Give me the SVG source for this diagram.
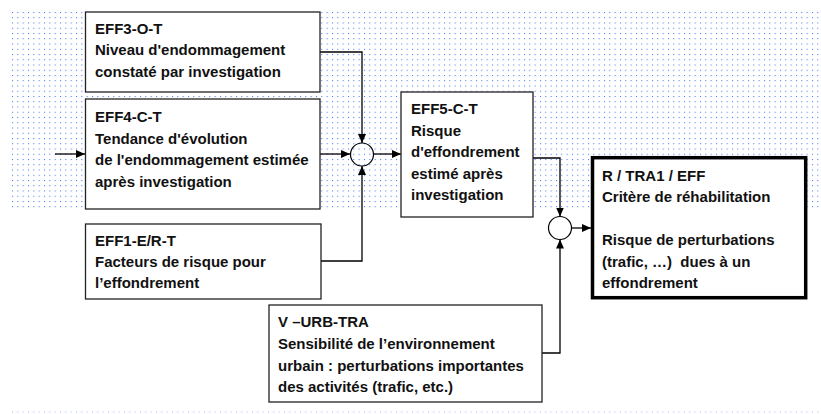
<svg xmlns="http://www.w3.org/2000/svg" width="821" height="414" viewBox="0 0 821 414">
  <style>
    .box { fill: #ffffff; stroke: #222222; stroke-width: 1.3; }
    .main { fill: #ffffff; stroke: #000000; stroke-width: 3.5; }
    .lbl { font-family: "Liberation Sans", Arial, sans-serif; font-weight: bold; font-size: 15px; fill: #111111; }
    .wire { fill: none; stroke: #000000; stroke-width: 1.3; }
    .join { fill: none; stroke: #000000; stroke-width: 1.2; }
  </style>
  <defs>
    <pattern id="dots" x="12" y="12" width="5.333" height="5.25" patternUnits="userSpaceOnUse">
      <rect x="0" y="0" width="1" height="1" fill="#3d6cf0"/>
    </pattern>
    <pattern id="dotrow" x="12" y="411.5" width="5.333" height="2" patternUnits="userSpaceOnUse">
      <rect x="0" y="0" width="1" height="1" fill="#3d6cf0"/>
    </pattern>
    <marker id="arr" markerWidth="9" markerHeight="8" refX="9" refY="4" orient="auto" markerUnits="userSpaceOnUse">
      <path d="M0,0 L9,4 L0,8 Z" fill="#000000"/>
    </marker>
  </defs>

  <!-- dotted backdrop -->
  <rect x="12" y="12" width="808" height="196" fill="url(#dots)"/>
  <rect x="12" y="411.5" width="808" height="1" fill="url(#dotrow)"/>

  <!-- connectors -->
  <g id="connectors">
    <path class="wire" d="M55,154 H85" marker-end="url(#arr)"/>
    <path class="wire" d="M320,52 H362 V143" marker-end="url(#arr)"/>
    <path class="wire" d="M320,154 H350" marker-end="url(#arr)"/>
    <path class="wire" d="M321,261 H362 V166" marker-end="url(#arr)"/>
    <path class="wire" d="M373.5,154 H401" marker-end="url(#arr)"/>
    <path class="wire" d="M533,158 H560 V216.5" marker-end="url(#arr)"/>
    <path class="wire" d="M571.5,228 H591" marker-end="url(#arr)"/>
    <path class="wire" d="M542,353 H560 V239.5" marker-end="url(#arr)"/>
    <circle class="join" cx="362" cy="154.5" r="11.5"/>
    <circle class="join" cx="560" cy="228" r="11.5"/>
  </g>

  <g id="eff3">
    <rect class="box" x="85.5" y="12" width="234.5" height="80"/>
    <text class="lbl" x="95" y="33.5">EFF3-O-T</text>
    <text class="lbl" x="95" y="55">Niveau d'endommagement</text>
    <text class="lbl" x="95" y="76.5">constaté par investigation</text>
  </g>

  <g id="eff4">
    <rect class="box" x="85.5" y="99" width="234.5" height="110"/>
    <text class="lbl" x="95" y="122">EFF4-C-T</text>
    <text class="lbl" x="95" y="143.5">Tendance d'évolution</text>
    <text class="lbl" x="95" y="165">de l'endommagement estimée</text>
    <text class="lbl" x="95" y="186.5">après investigation</text>
  </g>

  <g id="eff1">
    <rect class="box" x="85.5" y="224" width="235.5" height="75"/>
    <text class="lbl" x="95" y="246">EFF1-E/R-T</text>
    <text class="lbl" x="95" y="267">Facteurs de risque pour</text>
    <text class="lbl" x="95" y="288">l’effondrement</text>
  </g>

  <g id="eff5">
    <rect class="box" x="401" y="92" width="132" height="125"/>
    <text class="lbl" x="411" y="114">EFF5-C-T</text>
    <text class="lbl" x="411" y="135.5">Risque</text>
    <text class="lbl" x="411" y="157">d'effondrement</text>
    <text class="lbl" x="411" y="178.5">estimé après</text>
    <text class="lbl" x="411" y="200">investigation</text>
  </g>

  <g id="tra1">
    <rect class="main" x="592.5" y="157.7" width="213.2" height="140"/>
    <text class="lbl" x="602" y="180.5">R / TRA1 / EFF</text>
    <text class="lbl" x="602" y="202">Critère de réhabilitation</text>
    <text class="lbl" x="602" y="245">Risque de perturbations</text>
    <text class="lbl" x="602" y="266.5" style="white-space:pre">(trafic, …)  dues à un</text>
    <text class="lbl" x="602" y="288">effondrement</text>
  </g>

  <g id="urb">
    <rect class="box" x="269" y="305" width="273" height="97"/>
    <text class="lbl" x="278" y="327">V –URB-TRA</text>
    <text class="lbl" x="278" y="349">Sensibilité de l’environnement</text>
    <text class="lbl" x="278" y="370.5">urbain : perturbations importantes</text>
    <text class="lbl" x="278" y="392">des activités (trafic, etc.)</text>
  </g>
</svg>
